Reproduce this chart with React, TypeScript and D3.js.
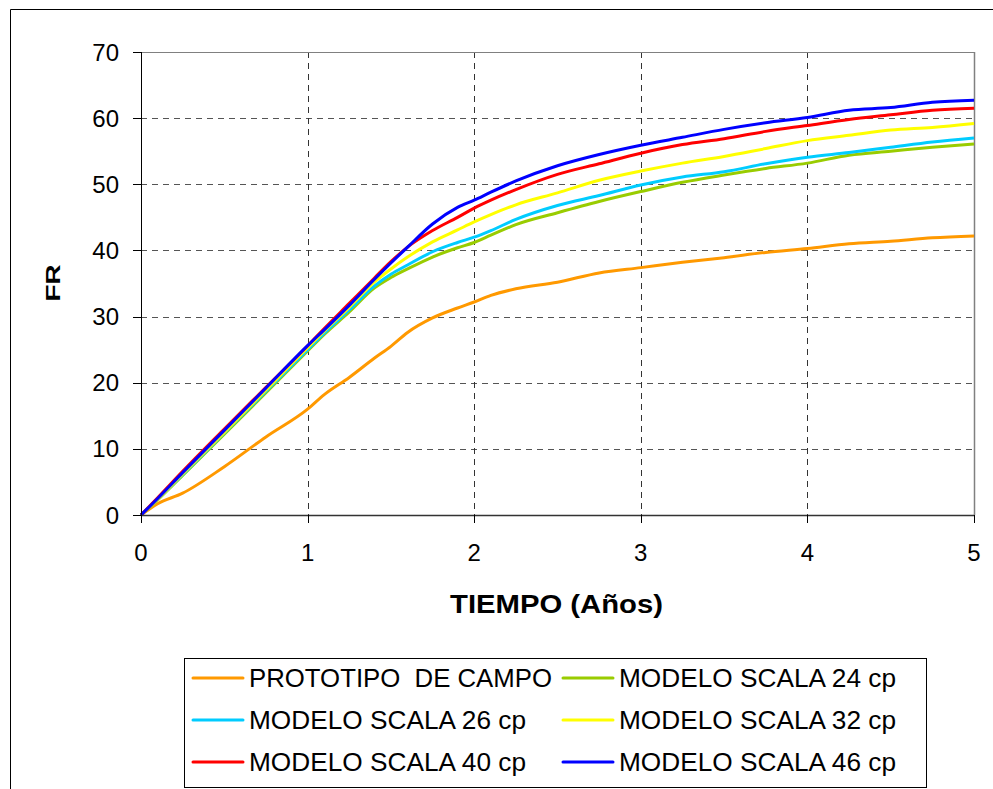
import React from "react";
import * as d3 from "d3";

const tiempo = [0, 0.1, 0.25, 0.5, 0.75, 1.0, 1.1, 1.25, 1.4, 1.5, 1.6, 1.75, 1.9, 2.0, 2.1, 2.25, 2.5, 2.75, 3.0, 3.25, 3.5, 3.75, 4.0, 4.25, 4.5, 4.75, 5.0];

const prototipo = [0, 1.7, 3.3, 7.3, 11.8, 16.0, 18.2, 20.8, 23.7, 25.5, 27.6, 29.8, 31.3, 32.2, 33.2, 34.2, 35.2, 36.6, 37.4, 38.2, 38.9, 39.7, 40.3, 41.0, 41.4, 41.9, 42.2];
const scala24 = [0, 2.3, 6.0, 12.2, 18.5, 24.8, 27.3, 30.7, 34.3, 35.9, 37.2, 39.0, 40.4, 41.2, 42.3, 43.9, 45.7, 47.4, 48.9, 50.3, 51.4, 52.4, 53.2, 54.4, 55.0, 55.6, 56.1];
const scala26 = [0, 2.4, 6.1, 12.4, 18.7, 25.0, 27.5, 31.0, 34.6, 36.4, 37.8, 39.8, 41.2, 42.0, 43.0, 44.7, 46.8, 48.3, 49.9, 51.1, 51.9, 53.1, 54.1, 54.8, 55.6, 56.4, 57.0];
const scala32 = [0, 2.4, 6.2, 12.5, 18.9, 25.3, 27.8, 31.4, 35.2, 37.2, 39.0, 41.3, 43.1, 44.3, 45.4, 46.9, 48.7, 50.6, 52.0, 53.2, 54.2, 55.4, 56.6, 57.4, 58.2, 58.6, 59.2];
const scala40 = [0, 2.6, 6.6, 13.0, 19.3, 25.6, 28.2, 32.0, 35.8, 38.3, 40.5, 43.0, 45.0, 46.4, 47.6, 49.2, 51.5, 53.1, 54.7, 56.0, 56.9, 58.0, 58.9, 59.8, 60.5, 61.2, 61.5];
const scala46 = [0, 2.5, 6.4, 12.8, 19.2, 25.6, 28.0, 31.7, 35.6, 38.1, 40.5, 44.0, 46.5, 47.6, 48.8, 50.5, 52.8, 54.5, 55.9, 57.1, 58.3, 59.3, 60.1, 61.2, 61.6, 62.4, 62.7];

const xTicks = [0, 1, 2, 3, 4, 5];
const yTicks = [0, 10, 20, 30, 40, 50, 60, 70];

const series = [
  { name: "PROTOTIPO  DE CAMPO", values: prototipo, color: "#FF9900", w: 303 },
  { name: "MODELO SCALA 24 cp", values: scala24, color: "#99CC00", w: 277 },
  { name: "MODELO SCALA 26 cp", values: scala26, color: "#00CCFF", w: 277 },
  { name: "MODELO SCALA 32 cp", values: scala32, color: "#FFFF00", w: 277 },
  { name: "MODELO SCALA 40 cp", values: scala40, color: "#FF0000", w: 277 },
  { name: "MODELO SCALA 46 cp", values: scala46, color: "#0000FF", w: 277 },
];

const FONT = "'Liberation Sans', Arial, sans-serif";

export default function App() {
  const left = 141, right = 974, top = 52, bottom = 515;
  const x = d3.scaleLinear().domain([0, 5]).range([left, right]);
  const y = d3.scaleLinear().domain([0, 70]).range([bottom, top]);
  const line = d3
    .line<[number, number]>()
    .x((d) => x(d[0]))
    .y((d) => y(d[1]))
    .curve(d3.curveMonotoneX);

  const legendRows = [678, 720, 762];
  const legendCols = [193, 563];

  return (
    <svg
      width={993}
      height={789}
      style={{ position: "absolute", left: 0, top: 0, background: "#fff" }}
    >
      <rect x={0} y={0} width={993} height={789} fill="#fff" />
      {/* outer frame */}
      <path d="M10.5,800 L10.5,9.5 L1000,9.5" fill="none" stroke="#000" strokeWidth={1} />

      {/* grid */}
      {yTicks.slice(1, -1).map((t) => (
        <line key={"gy" + t} x1={left} x2={right} y1={Math.round(y(t)) + 0.5} y2={Math.round(y(t)) + 0.5}
          stroke="#555" strokeWidth={1} strokeDasharray="6,5" />
      ))}
      {xTicks.slice(1, -1).map((t) => (
        <line key={"gx" + t} x1={Math.round(x(t)) + 0.5} x2={Math.round(x(t)) + 0.5} y1={top} y2={bottom}
          stroke="#333" strokeWidth={1} strokeDasharray="6,5" />
      ))}
      {/* plot border top/right */}
      <line x1={left} x2={right} y1={top + 0.5} y2={top + 0.5} stroke="#808080" strokeWidth={1} />
      <line x1={right + 0.5} x2={right + 0.5} y1={top} y2={bottom} stroke="#808080" strokeWidth={1.5} />

      {/* series */}
      {series.map((s) => (
        <path
          key={s.name}
          d={line(tiempo.map((t, i) => [t, s.values[i]] as [number, number])) || ""}
          fill="none"
          stroke={s.color}
          strokeWidth={3}
          strokeLinejoin="round"
        />
      ))}

      {/* axes */}
      <line x1={left + 0.5} x2={left + 0.5} y1={top} y2={bottom} stroke="#000" strokeWidth={1} />
      <line x1={left} x2={right} y1={bottom + 0.5} y2={bottom + 0.5} stroke="#333" strokeWidth={1.5} />
      {yTicks.map((t) => (
        <g key={"yt" + t}>
          <line x1={left - 8} x2={left} y1={Math.round(y(t)) + 0.5} y2={Math.round(y(t)) + 0.5} stroke="#000" strokeWidth={1} />
          <text x={119} y={y(t)} dy="0.36em" textAnchor="end" fontFamily={FONT} fontSize={24} fill="#000">
            {t}
          </text>
        </g>
      ))}
      {xTicks.map((t) => (
        <g key={"xt" + t}>
          <line x1={Math.round(x(t)) + 0.5} x2={Math.round(x(t)) + 0.5} y1={bottom} y2={bottom + 8} stroke="#000" strokeWidth={1} />
          <text x={x(t)} y={561} textAnchor="middle" fontFamily={FONT} fontSize={24} fill="#000">
            {t}
          </text>
        </g>
      ))}

      {/* axis titles */}
      <text x={450} y={613} textLength={213} lengthAdjust="spacingAndGlyphs" fontFamily={FONT} fontSize={25.5} fontWeight="bold" fill="#000">
        TIEMPO (Años)
      </text>
      <text transform="translate(60,301.5) rotate(-90)" textLength={37} lengthAdjust="spacingAndGlyphs" fontFamily={FONT} fontSize={19.5} fontWeight="bold" fill="#000">
        FR
      </text>

      {/* legend */}
      <rect x={184.5} y={658.5} width={742} height={129} fill="#fff" stroke="#000" strokeWidth={1} />
      {series.map((s, i) => {
        const row = Math.floor(i / 2);
        const col = i % 2;
        const lx = legendCols[col];
        const ly = legendRows[row];
        return (
          <g key={"lg" + i}>
            <line x1={lx} x2={lx + 50} y1={ly} y2={ly} stroke={s.color} strokeWidth={3} strokeLinecap="round" />
            <text x={lx + 56} y={ly + 9} textLength={s.w} lengthAdjust="spacingAndGlyphs" fontFamily={FONT} fontSize={25.5} fill="#000" style={{ whiteSpace: "pre" }}>
              {s.name}
            </text>
          </g>
        );
      })}
    </svg>
  );
}
